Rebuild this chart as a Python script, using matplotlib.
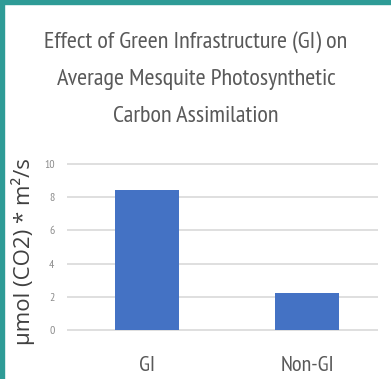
import matplotlib
matplotlib.use('Agg')
import matplotlib.pyplot as plt
from matplotlib.patches import Rectangle

categories = ['GI', 'Non-GI']
values = [8.45, 2.25]
yticks = [0, 2, 4, 6, 8, 10]
title_lines = ['Effect of Green Infrastructure (GI) on',
               'Average Mesquite Photosynthetic',
               'Carbon Assimilation']
ylabel = 'µmol (CO2) * m²/s'

narrow = ['PT Sans Narrow', 'DejaVu Sans']

W, H = 391, 379
fig = plt.figure(figsize=(W / 100, H / 100), dpi=100, facecolor='white')

# teal frame on top and left
teal = '#2e9b96'
fig.patches.append(Rectangle((0, 1 - 4 / H), 1, 4 / H, transform=fig.transFigure,
                             color=teal, zorder=5))
fig.patches.append(Rectangle((0, 0), 4 / W, 1, transform=fig.transFigure,
                             color=teal, zorder=5))

ax = fig.add_axes([67 / W, 1 - 333.3 / H, 311 / W, 172.6 / H])
ax.bar(range(len(categories)), values, width=0.4, color='#4472c4', zorder=3)
ax.set_xlim(-0.5, 1.444)
ax.set_ylim(-0.2, 10.2)
ax.set_yticks(yticks)
ax.set_xticks(range(len(categories)))
ax.set_xticklabels(categories, family=narrow, fontsize=16, color='#595959')
ax.set_yticklabels([str(t) for t in yticks], family=narrow, fontsize=8.5, color='#8c8c8c')
ax.tick_params(axis='y', length=0, pad=9)
ax.tick_params(axis='x', length=0, pad=16)
ax.grid(axis='y', color='#d9d9d9', linewidth=1.2, zorder=0)
for s in ax.spines.values():
    s.set_visible(False)

# title, one line per baseline
for line, base in zip(title_lines, [48, 85, 122]):
    fig.text(196 / W, 1 - base / H, line, ha='center', va='baseline', family=narrow,
             fontsize=17.5, color='#595959')

fig.text(23 / W, 1 - 252 / H, ylabel, rotation=90, ha='center', va='center',
         family=['Open Sans', 'DejaVu Sans'], fontsize=16, color='#404040')

fig.savefig('out.png', dpi=100, facecolor='white')
